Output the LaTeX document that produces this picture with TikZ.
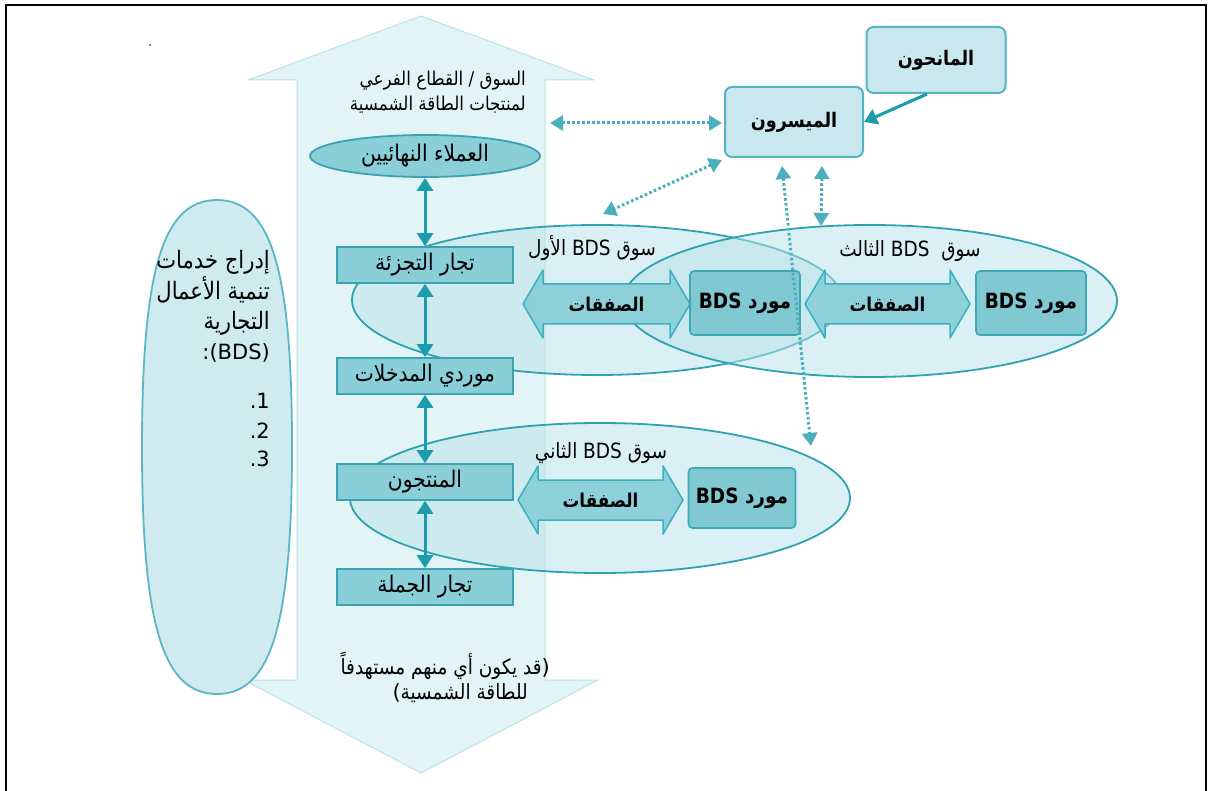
\documentclass[tikz,border=0pt]{standalone}
\usepackage{fontspec}
\usetikzlibrary{arrows.meta,shapes.geometric}
\TeXXeTstate=1
\newfontfamily\arfont[Script=Arabic, FakeStretch=0.88]{DejaVu Sans}
\newfontfamily\latfont{DejaVu Sans}
\newcommand\AR[1]{{\arfont\beginR #1\endR}}
\newcommand\fsz[1]{\fontsize{#1}{#1}\selectfont}

\definecolor{shaftfill}{HTML}{E3F4F6}
\definecolor{shaftdraw}{HTML}{BCE2E7}
\definecolor{mktfill}{HTML}{B9E2EA}
\definecolor{mktdraw}{HTML}{2FA2B0}
\definecolor{boxfill}{HTML}{8ACED8}
\definecolor{boxdraw}{HTML}{3AA2B0}
\definecolor{supfill}{HTML}{80C8D2}
\definecolor{supdraw}{HTML}{3AA8B5}
\definecolor{arrfill}{HTML}{8DD0D9}
\definecolor{arrdraw}{HTML}{3AB1BE}
\definecolor{actfill}{HTML}{C8E7EE}
\definecolor{actdraw}{HTML}{56B5C2}
\definecolor{linkcol}{HTML}{1D9DAB}
\definecolor{dotcol}{HTML}{4BAFBC}
\definecolor{ovfill}{HTML}{D0EBF0}
\definecolor{ovdraw}{HTML}{5AB8C4}

\tikzset{
  pics/txarrow/.style={code={
    \path[draw=arrdraw, fill=arrfill, line width=1.5pt, line join=round]
      (-#1,0) -- (-#1+20,-34) -- (-#1+20,-20) -- (#1-20,-20) -- (#1-20,-34)
      -- (#1,0) -- (#1-20,34) -- (#1-20,20) -- (-#1+20,20) -- (-#1+20,34) -- cycle;
  }}
}

\begin{document}
\begin{tikzpicture}[x=1pt,y=-1pt,
  every node/.style={font=\arfont\fsz{19}, text=black},
  line/.style={anchor=base east, inner sep=0pt},
  shaftbox/.style={draw=boxdraw, fill=boxfill, line width=1.6pt,
    minimum width=176pt, minimum height=36pt, inner sep=0pt, font=\arfont\fsz{23}},
  supbox/.style={draw=supdraw, fill=supfill, line width=1.6pt, rounded corners=4pt,
    minimum width=110pt, minimum height=64pt, inner sep=0pt,
    font=\arfont\bfseries\fsz{21}},
  actor/.style={draw=actdraw, fill=actfill, line width=2pt, rounded corners=7pt,
    minimum width=138pt, minimum height=70pt, inner sep=0pt,
    font=\arfont\bfseries\fsz{20}},
  market/.style={ellipse, draw=mktdraw, line width=1.8pt, fill=mktfill,
    fill opacity=0.5, inner sep=0pt},
  mktlabel/.style={inner sep=0pt, font=\arfont\fsz{21}},
  txlabel/.style={inner sep=0pt, font=\arfont\bfseries\fsz{19}},
  link/.style={draw=linkcol, line width=3pt,
    {Triangle[width=16pt,length=13pt]}-{Triangle[width=16pt,length=13pt]}},
  oneway/.style={draw=linkcol, line width=3pt, -{Triangle[width=16pt,length=13pt]}},
  dotlink/.style={draw=dotcol, line width=3pt, dash pattern=on 2.6pt off 2.4pt,
    {Triangle[width=15pt,length=13pt]}-{Triangle[width=15pt,length=13pt]}},
]
\useasboundingbox (0,0) rectangle (1210,791);
\fill[white] (0,0) rectangle (1210,791);

% frame
\draw[line width=2.5pt] (6,791) -- (6,5) -- (1206,5) -- (1206,791);

% stray mark
\fill (150,45) circle (0.9pt);

% vertical double arrow of the market / sub-sector
\path[draw=shaftdraw, fill=shaftfill, line width=1pt, line join=round]
  (421,16) -- (594,80) -- (545,80) -- (545,680) -- (598,680) -- (421,773)
  -- (244,680) -- (297,680) -- (297,80) -- (248,80) -- cycle;

\node[line] (title1) at (526,86) {\AR{السوق / القطاع الفرعي}};
\node[line] (title2) at (526,111) {\AR{لمنتجات الطاقة الشمسية}};

\node[line, font=\arfont\fsz{21}] (note1) at (550,674) {\AR{قد يكون أي منهم مستهدفاً}{\latfont )}};
\node[line, font=\arfont\fsz{21}] (note2) at (528,699) {{\latfont (}\AR{للطاقة الشمسية}};

% BDS inclusion oval
\path[draw=ovdraw, fill=ovfill, line width=1.8pt]
  (217,200) .. controls (271,200) and (292,269) .. (292,447)
  .. controls (292,625) and (271,694) .. (217,694)
  .. controls (163,694) and (142,625) .. (142,447)
  .. controls (142,269) and (163,200) .. (217,200) -- cycle;
\begin{scope}[every node/.style={line, font=\arfont\fsz{24}}]
  \node (bds1) at (270,269) {\AR{إدراج خدمات}};
  \node (bds2) at (270,300) {\AR{تنمية الأعمال}};
  \node (bds3) at (270,330) {\AR{التجارية}};
  \node[font=\latfont\fsz{21}] (bds4) at (270,360) {:(BDS)};
  \node[font=\latfont\fsz{21}] (bds5) at (270,408) {.1};
  \node[font=\latfont\fsz{21}] (bds6) at (270,438) {.2};
  \node[font=\latfont\fsz{21}] (bds7) at (270,466) {.3};
\end{scope}

% BDS markets
\node[market, minimum width=490pt, minimum height=150pt] (m1) at (597,300) {};
\node[market, minimum width=494pt, minimum height=152pt] (m3) at (870,301) {};
\node[market, minimum width=500pt, minimum height=150pt] (m2) at (600,498) {};

\node[mktlabel] (m1lab) at (592,248) {\AR{سوق BDS الأول}};
\node[mktlabel] (m3lab) at (910,251) {\AR{سوق~~BDS الثالث}};
\node[mktlabel] (m2lab) at (601,453) {\AR{سوق BDS الثاني}};

% value chain actors
\node[ellipse, draw=boxdraw, fill=boxfill, line width=1.8pt, minimum width=230pt,
  minimum height=42pt, inner sep=0pt, font=\arfont\fsz{23}] (cust) at (425,156)
  {\AR{العملاء النهائيين}};
\node[shaftbox] (retail) at (425,265) {\AR{تجار التجزئة}};
\node[shaftbox] (inputs) at (425,376) {\AR{موردي المدخلات}};
\node[shaftbox] (prod) at (425,482) {\AR{المنتجون}};
\node[shaftbox] (whole) at (425,587) {\AR{تجار الجملة}};

\draw[link] (cust.south) -- (retail.north);
\draw[link] (retail.south) -- (inputs.north);
\draw[link] (inputs.south) -- (prod.north);
\draw[link] (prod.south) -- (whole.north);

% transactions and BDS providers
\pic at (606.5,304) {txarrow=83.5};
\node[txlabel] (tx1) at (606.5,304) {\AR{الصفقات}};
\pic at (887.5,304) {txarrow=82.5};
\node[txlabel] (tx3) at (887.5,304) {\AR{الصفقات}};
\pic at (600.5,500) {txarrow=82.5};
\node[txlabel] (tx2) at (600.5,500) {\AR{الصفقات}};

\node[supbox] (s1) at (745,303) {\AR{مورد BDS}};
\node[supbox] (s3) at (1031,303) {\AR{مورد BDS}};
\node[supbox, minimum width=107pt, minimum height=60pt] (s2) at (742,498) {\AR{مورد BDS}};

% facilitators and donors
\node[actor] (fac) at (794,122) {\AR{الميسرون}};
\node[actor, minimum width=139pt, minimum height=66pt] (don) at (936,60) {\AR{المانحون}};

\draw[oneway] ([xshift=-9pt]don.south) -- (fac.east);

\coordinate (shaftR) at (549,123);
\coordinate (m1top) at (603,214);
\coordinate (m2edge) at (811,446);
\coordinate (m3top) at (821,226);

\draw[dotlink, shorten >=1pt] (fac.west |- shaftR) ++(-2,0) -- (shaftR);
\draw[dotlink] ([xshift=-2pt,yshift=-2pt]fac.south west) -- (m1top);
\draw[dotlink] ([xshift=-12pt,yshift=-8pt]fac.south) -- (m2edge);
\draw[dotlink] ([xshift=28pt,yshift=-8pt]fac.south) -- (m3top);
\end{tikzpicture}
\end{document}
